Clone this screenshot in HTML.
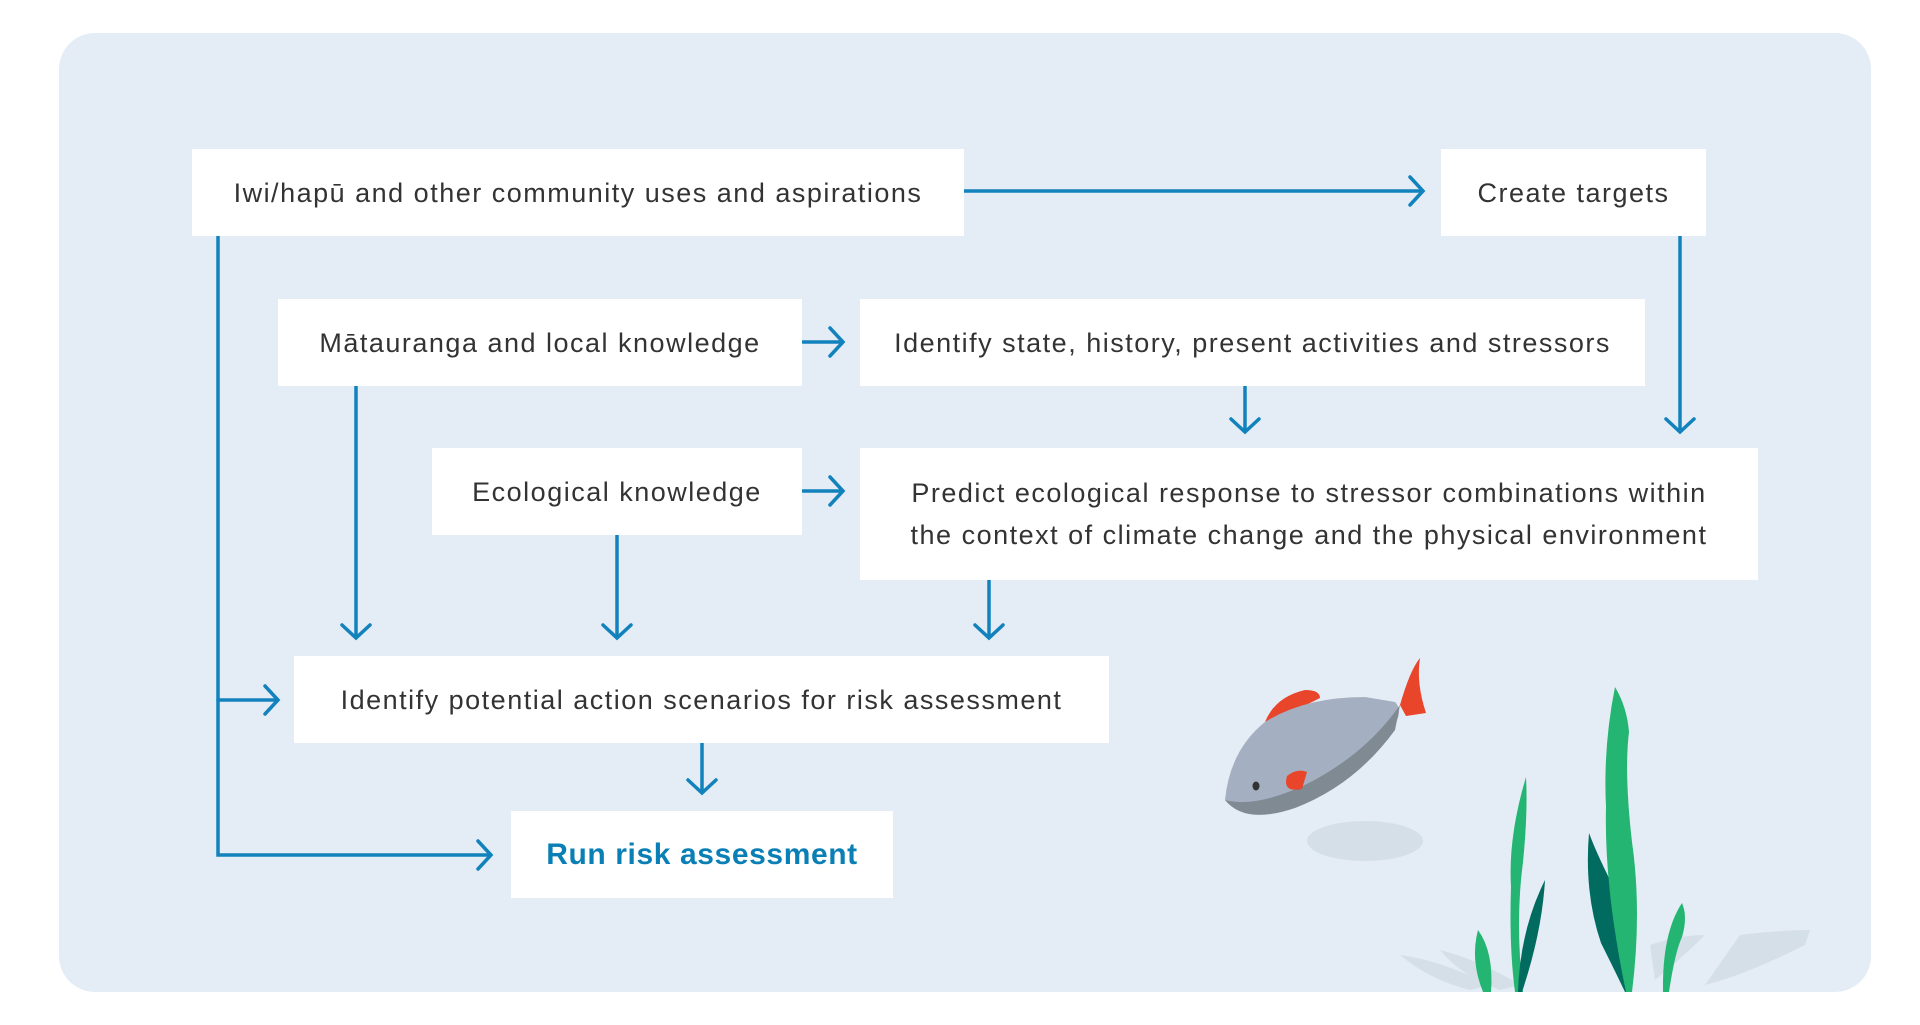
<!DOCTYPE html>
<html><head><meta charset="utf-8"><style>
html,body{margin:0;padding:0;width:1920px;height:1025px;background:#fff;overflow:hidden;font-family:"Liberation Sans",sans-serif}
.panel{position:absolute;left:59px;top:33px;width:1812px;height:959px;background:#e4ecf5;border-radius:36px}
.b{position:absolute;background:#fff;color:#333;font-size:27px;display:flex;align-items:center;justify-content:center;text-align:center;letter-spacing:1.5px;line-height:42px;white-space:nowrap}
svg{position:absolute;left:0;top:0}
</style></head><body>
<div class="panel"></div>
<svg width="1920" height="1025">
<g stroke="#1282bd" stroke-width="3.5" fill="none" stroke-linecap="round">
<path d="M964 191H1422"/><path d="M1410 177l13 14-13 14"/>
<path d="M218 236V855H490"/><path d="M478 841l13 14-13 14"/>
<path d="M218 700H277"/><path d="M265 686l13 14-13 14"/>
<path d="M803 342H842"/><path d="M830 328l13 14-13 14"/>
<path d="M803 491H842"/><path d="M830 477l13 14-13 14"/>
<path d="M356 386V637"/><path d="M342 625l14 13 14-13"/>
<path d="M617 535V637"/><path d="M603 625l14 13 14-13"/>
<path d="M989 580V637"/><path d="M975 625l14 13 14-13"/>
<path d="M1245 386V431"/><path d="M1231 419l14 13 14-13"/>
<path d="M1680 236V431"/><path d="M1666 419l14 13 14-13"/>
<path d="M702 743V792"/><path d="M688 780l14 13 14-13"/>
</g>
<g fill="#d5dfe8">
<path d="M1400 955q40 5 90 30l-20 5q-40-10-70-35z"/>
<path d="M1440 950q40 10 80 35l-20 5q-40-15-60-40z"/>
<path d="M1740 935q40-5 70-5l-5 15q-60 30-100 40z"/>
<path d="M1650 945q30-10 55-10q-20 20-50 45z"/>
<ellipse cx="1365" cy="841" rx="58" ry="20"/>
</g>
<path d="M1478 930q-8 30 5 62h8q3-40-13-62z" fill="#25b573"/>
<path d="M1526 777q-18 60-15 110q-2 60 4 105h8q-8-70 0-130q5-50 3-85z" fill="#25b573"/>
<path d="M1545 880q-25 50-27 112h4q20-60 23-112z" fill="#006b5e"/>
<path d="M1589 833q-5 60 12 110q15 30 24 49h4q-5-80-18-110q-15-30-22-49z" fill="#006b5e"/>
<path d="M1615 687q-12 60-9 120q-2 80 20 185h6q10-80 0-150q-8-70-3-110q-2-25-14-45z" fill="#25b573"/>
<path d="M1682 903q-20 30-19 89h6q6-40 13-55q6-20 0-34z" fill="#25b573"/>
<path d="M1265 722q10-25 40-32q15 0 15 8l-20 10z" fill="#e8452a"/>
<path d="M1400 705q10-35 20-47q-4 25 6 55l-20 3z" fill="#e8452a"/>
<path d="M1330 760q10 20-20 40l-20 4q25-20 40-44z" fill="#e8452a"/>
<path d="M1225 800q5-50 40-78q40-25 100-25l30 5q10 10-5 30q-40 50-100 75q-45 15-65-7z" fill="#a4afc1"/>
<path d="M1225 800q30 8 80-15q60-30 95-80l-5 25q-40 55-100 78q-50 17-70-8z" fill="#7f8a92"/>
<path d="M1287 776q10-8 20-4l-5 17q-20 4-15-13z" fill="#e8452a"/>
<ellipse cx="1256" cy="786" rx="3.5" ry="4.5" fill="#333"/>
</svg>
<div class="b" style="left:192px;top:149px;width:772px;height:87px">Iwi/hapū and other community uses and aspirations</div>
<div class="b" style="left:1441px;top:149px;width:265px;height:87px">Create targets</div>
<div class="b" style="left:278px;top:299px;width:524px;height:87px">Mātauranga and local knowledge</div>
<div class="b" style="left:860px;top:299px;width:785px;height:87px">Identify state, history, present activities and stressors</div>
<div class="b" style="left:432px;top:448px;width:370px;height:87px">Ecological knowledge</div>
<div class="b" style="left:860px;top:448px;width:898px;height:132px">Predict ecological response to stressor combinations within<br>the context of climate change and the physical environment</div>
<div class="b" style="left:294px;top:656px;width:815px;height:87px">Identify potential action scenarios for risk assessment</div>
<div class="b" style="left:511px;top:811px;width:382px;height:87px;color:#0a7fb5;font-weight:bold;font-size:30px;letter-spacing:0.6px">Run risk assessment</div>
</body></html>
